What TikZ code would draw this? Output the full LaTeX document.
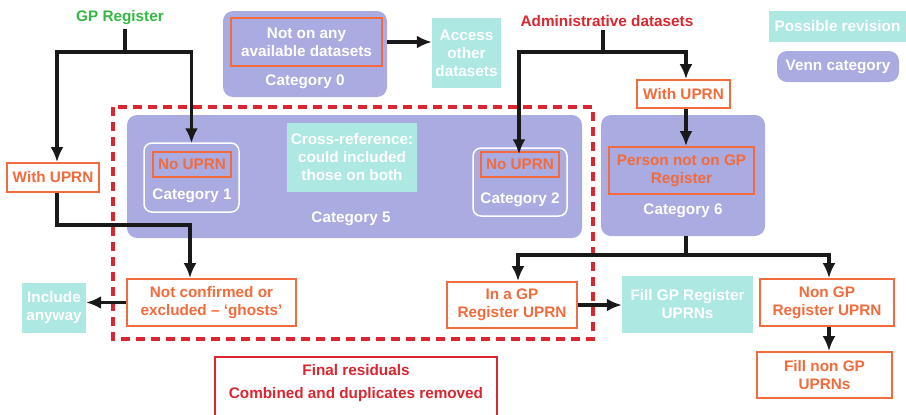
\documentclass[tikz,border=0pt]{standalone}
\usepackage{fontspec}
\setmainfont{Liberation Sans}
\usetikzlibrary{arrows.meta, positioning, calc}
\definecolor{vennblue}{HTML}{AAABE0}
\definecolor{revteal}{HTML}{ADE8E3}
\definecolor{uprnorange}{HTML}{F26B3D}
\definecolor{admred}{HTML}{D9262F}
\definecolor{gpgreen}{HTML}{35B843}

\begin{document}
\begin{tikzpicture}[x=1pt,y=-1pt,font=\fontsize{15.3}{18}\selectfont\bfseries]
  \tikzstyle{venn} = [rectangle,rounded corners=10pt,fill=vennblue,inner sep=0pt]
  \tikzstyle{revision} = [rectangle,fill=revteal,text=white,align=center,inner sep=0pt]
  \tikzstyle{uprn} = [rectangle,fill=white,draw=uprnorange,line width=1.8pt,text=uprnorange,align=center,inner sep=0pt]
  \tikzstyle{onvenn} = [rectangle,draw=uprnorange,line width=1.8pt,align=center,inner sep=0pt]
  \tikzstyle{subset} = [rectangle,rounded corners=8pt,draw=white,line width=1.5pt,inner sep=0pt]
  \tikzstyle{catlabel} = [text=white,inner sep=0pt]
  \tikzstyle{estun} = [-{Latex[length=15pt,width=13pt]}, line width=3.4pt, black!90]
  \tikzstyle{stem} = [line width=3.4pt, black!90]
  \useasboundingbox (0,0) rectangle (906,415);
  \clip (0,0) rectangle (906,415);

  % sources
  \node[text=gpgreen] at (120,18) (gp) {GP Register};
  \node[text=admred] at (607,21) (adm) {Administrative datasets};

  % category 0
  \node[venn,minimum width=164pt,minimum height=86pt] at (305,54) (cat0) {};
  \node[onvenn,text=white,minimum width=151pt,minimum height=48pt] at (306.5,42) (notany) {Not on any\\available datasets};
  \node[catlabel] at (305,82) (cat0lab) {Category 0};
  \node[revision,minimum width=69pt,minimum height=70pt] at (466.5,53) (access) {Access\\other\\datasets};

  % categories 5, 1, 2
  \node[venn,minimum width=455pt,minimum height=123pt] at (354.5,176.5) (cat5) {};
  \node[catlabel] at (351,219) (cat5lab) {Category 5};
  \node[subset,minimum width=95pt,minimum height=69pt] at (191.5,177.5) (cat1) {};
  \node[onvenn,text=uprnorange,minimum width=78pt,minimum height=25pt] at (192,164.5) (nouprnA) {No UPRN};
  \node[catlabel] at (192,196) (cat1lab) {Category 1};
  \node[revision,minimum width=130pt,minimum height=69pt] at (352,157.5) (cross) {Cross-reference:\\could included\\those on both};
  \node[subset,minimum width=94pt,minimum height=68pt] at (520,182) (cat2) {};
  \node[onvenn,text=uprnorange,minimum width=78pt,minimum height=25pt] at (520,164.5) (nouprnB) {No UPRN};
  \node[catlabel] at (520,200) (cat2lab) {Category 2};

  % category 6
  \node[uprn,minimum width=93pt,minimum height=28pt] at (683.5,94) (withR) {With UPRN};
  \node[venn,minimum width=164pt,minimum height=121pt] at (683,175.5) (cat6) {};
  \node[onvenn,text=uprnorange,minimum width=145pt,minimum height=47pt] at (681.5,170.5) (personnot) {Person not on GP\\Register};
  \node[catlabel] at (683,211) (cat6lab) {Category 6};

  % left branch
  \node[uprn,minimum width=92pt,minimum height=29pt] at (53,177.5) (withL) {With UPRN};
  \node[uprn,minimum width=169pt,minimum height=47pt] at (211.5,302.5) (ghosts) {Not confirmed or\\excluded -- ‘ghosts’};
  \node[revision,minimum width=64pt,minimum height=50pt] at (54,308) (include) {Include\\anyway};

  % bottom row
  \node[uprn,minimum width=130pt,minimum height=46pt] at (512,305) (ingp) {In a GP\\Register UPRN};
  \node[revision,minimum width=131pt,minimum height=57pt] at (687.5,304.5) (fillgp) {Fill GP Register\\UPRNs};
  \node[uprn,minimum width=134pt,minimum height=47pt] at (827,302.5) (nongp) {Non GP\\Register UPRN};
  \node[uprn,minimum width=135pt,minimum height=46pt] at (824.5,375) (fillnon) {Fill non GP\\UPRNs};

  % residual frame
  \draw[admred,line width=3.5pt,dash pattern=on 9pt off 6pt] (113,107) rectangle (593,339);
  \node[rectangle,draw=admred,line width=1.6pt,minimum width=282pt,minimum height=74pt,anchor=north] at (356,356) (final) {};
  \node[text=admred,align=center] at (356,383) (finallab) {Final residuals\\[5pt]Combined and duplicates removed};

  % legend
  \node[revision,minimum width=137pt,minimum height=31pt] at (837.5,26.5) (legrev) {Possible revision};
  \node[venn,text=white,minimum width=122pt,minimum height=31pt] at (838,66.5) (legvenn) {Venn category};

  % connectors
  \coordinate (gpsplit) at (125,52);
  \coordinate (admsplit) at (603,52);
  \coordinate (ghostin) at (190,225);
  \coordinate (c6split) at (686,255);
  \draw[stem] (gpsplit |- gp.south) -- (gpsplit);
  \draw[estun] (gpsplit) -| ([xshift=4pt]withL.north);
  \draw[estun] (gpsplit) -| ([yshift=-1pt]cat1.north);
  \draw[estun] ([xshift=4pt]withL.south) |- (ghostin) -- (ghostin |- ghosts.north);
  \draw[estun] (ghosts.west) -- (ghosts.west -| include.east);
  \draw[estun] (notany.east -| cat0.east) -- (notany.east -| access.west);
  \draw[stem] (admsplit |- adm.south) -- (admsplit);
  \draw[estun] (admsplit) -| ([xshift=-1pt,yshift=-7pt]cat2.north);
  \draw[estun] (admsplit) -| ([xshift=2.5pt]withR.north);
  \draw[estun] ([xshift=2.5pt]withR.south) -- ([xshift=2.5pt]withR.south |- personnot.north);
  \draw[stem] (c6split |- cat6.south) -- (c6split);
  \draw[estun] (c6split) -| ([xshift=6pt]ingp.north);
  \draw[estun] (c6split) -| ([xshift=2pt]nongp.north);
  \draw[estun] (ingp.east) -- (ingp.east -| fillgp.west);
  \draw[estun] ([xshift=2pt]nongp.south) -- ([xshift=2pt]nongp.south |- fillnon.north);
\end{tikzpicture}
\end{document}
